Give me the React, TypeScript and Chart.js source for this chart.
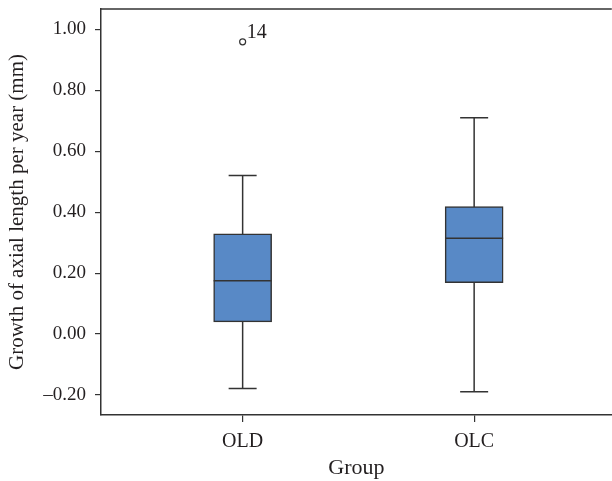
import React, { useEffect, useRef } from 'react';
import { Chart, registerables } from 'chart.js';

Chart.register(...registerables);

// ---- data ----
const categories = ['OLD', 'OLC'];
const categoryPositions = [1, 2];
const whiskerLow = [-0.179, -0.189];
const q1 = [0.04, 0.169];
const median = [0.175, 0.314];
const q3 = [0.329, 0.418];
const whiskerHigh = [0.52, 0.71];
const outlierPositions = [1];
const outlierValues = [0.959];
const outlierLabels = ['14'];
const yTicks = [-0.2, 0, 0.2, 0.4, 0.6, 0.8, 1.0];

const FONT = "'Liberation Serif', 'Times New Roman', serif";
const INK = '#333333';
const TEXT = '#231f20';
const BOX_FILL = '#5889c6';

const boxExtras = {
  id: 'boxExtras',
  beforeDatasetsDraw(chart: any) {
    const { ctx, scales } = chart;
    const x = scales.x;
    const y = scales.y;
    ctx.save();
    ctx.strokeStyle = INK;
    ctx.lineWidth = 1.5;
    categoryPositions.forEach((c, i) => {
      const px = x.getPixelForValue(c);
      const lo = y.getPixelForValue(whiskerLow[i]);
      const hi = y.getPixelForValue(whiskerHigh[i]);
      ctx.beginPath();
      ctx.moveTo(px, lo);
      ctx.lineTo(px, hi);
      ctx.stroke();
      ctx.beginPath();
      ctx.moveTo(px - 14, lo);
      ctx.lineTo(px + 14, lo);
      ctx.moveTo(px - 14, hi);
      ctx.lineTo(px + 14, hi);
      ctx.stroke();
    });
    ctx.restore();
  },
  afterDatasetsDraw(chart: any) {
    const { ctx, scales, chartArea } = chart;
    const x = scales.x;
    const y = scales.y;
    ctx.save();
    ctx.strokeStyle = INK;
    ctx.lineWidth = 1.5;
    categoryPositions.forEach((c, i) => {
      const px = x.getPixelForValue(c);
      const m = y.getPixelForValue(median[i]);
      ctx.beginPath();
      ctx.moveTo(px - 29, m);
      ctx.lineTo(px + 29, m);
      ctx.stroke();
    });
    // top frame line
    ctx.beginPath();
    ctx.moveTo(chartArea.left, chartArea.top);
    ctx.lineTo(chartArea.right, chartArea.top);
    ctx.stroke();
    // outlier labels
    ctx.fillStyle = TEXT;
    ctx.font = `20px ${FONT}`;
    ctx.textAlign = 'left';
    ctx.textBaseline = 'alphabetic';
    outlierPositions.forEach((c, i) => {
      const px = x.getPixelForValue(c);
      const py = y.getPixelForValue(outlierValues[i]);
      ctx.fillText(outlierLabels[i], px + 4, py - 4);
    });
    ctx.restore();
  },
};

export default function App() {
  const ref = useRef<HTMLCanvasElement | null>(null);

  useEffect(() => {
    document.body.style.margin = '0';
    const canvas = ref.current;
    if (!canvas) return;
    const chart = new Chart(canvas, {
      type: 'bar',
      data: {
        datasets: [
          {
            type: 'bar',
            data: categoryPositions.map((c, i) => ({ x: c, y: [q1[i], q3[i]] })) as any,
            backgroundColor: BOX_FILL,
            borderColor: INK,
            borderWidth: 1.5,
            borderSkipped: false,
            barThickness: 58,
          },
          {
            type: 'scatter',
            data: outlierPositions.map((c, i) => ({ x: c, y: outlierValues[i] })),
            pointStyle: 'circle',
            pointRadius: 3,
            pointBackgroundColor: '#ffffff',
            pointBorderColor: INK,
            pointBorderWidth: 1.2,
          } as any,
        ],
      },
      options: {
        animation: false,
        responsive: false,
        layout: { padding: { top: 9, left: 0, right: 0, bottom: 0 } },
        plugins: {
          legend: { display: false },
          tooltip: { enabled: false },
        },
        scales: {
          x: {
            type: 'linear',
            offset: false,
            min: 0.3882,
            max: 2.5946,
            afterFit: (s: any) => {
              s.height = 66;
              s.paddingLeft = 0;
              s.paddingRight = 0;
            },
            afterBuildTicks: (s: any) => {
              s.ticks = categoryPositions.map((v) => ({ value: v }));
            },
            ticks: {
              color: TEXT,
              font: { family: FONT, size: 20 },
              padding: 8,
              maxRotation: 0,
              callback: (v: any) => {
                const idx = categoryPositions.indexOf(Number(v));
                return idx >= 0 ? categories[idx] : '';
              },
            },
            grid: {
              display: true,
              offset: false,
              drawOnChartArea: false,
              drawTicks: true,
              tickLength: 7,
              color: INK,
              lineWidth: 1.2,
            },
            border: { display: true, color: INK, width: 1.5 },
            title: {
              display: true,
              text: 'Group',
              color: TEXT,
              font: { family: FONT, size: 22 },
              padding: { top: 0, bottom: 0 },
            },
          },
          y: {
            type: 'linear',
            min: -0.2656,
            max: 1.0666,
            afterFit: (s: any) => {
              s.width = 101;
              s.paddingTop = 0;
              s.paddingBottom = 0;
            },
            afterBuildTicks: (s: any) => {
              s.ticks = yTicks.map((v) => ({ value: v }));
            },
            ticks: {
              color: TEXT,
              font: { family: FONT, size: 19 },
              padding: 9,
              callback: (v: any) => {
                const n = Number(v);
                return n < 0 ? '\u2013' + Math.abs(n).toFixed(2) : n.toFixed(2);
              },
            },
            grid: {
              display: true,
              drawOnChartArea: false,
              drawTicks: true,
              tickLength: 6,
              color: INK,
              lineWidth: 1.2,
            },
            border: { display: true, color: INK, width: 1.5 },
            title: {
              display: true,
              text: 'Growth of axial length per year (mm)',
              color: TEXT,
              font: { family: FONT, size: 21 },
              padding: { top: 5, bottom: 0 },
            },
          },
        },
      },
      plugins: [boxExtras],
    });
    return () => chart.destroy();
  }, []);

  return (
    <div style={{ width: 612, height: 481, overflow: 'hidden' }}>
      <canvas ref={ref} width={617} height={481} style={{ display: 'block' }} />
    </div>
  );
}
